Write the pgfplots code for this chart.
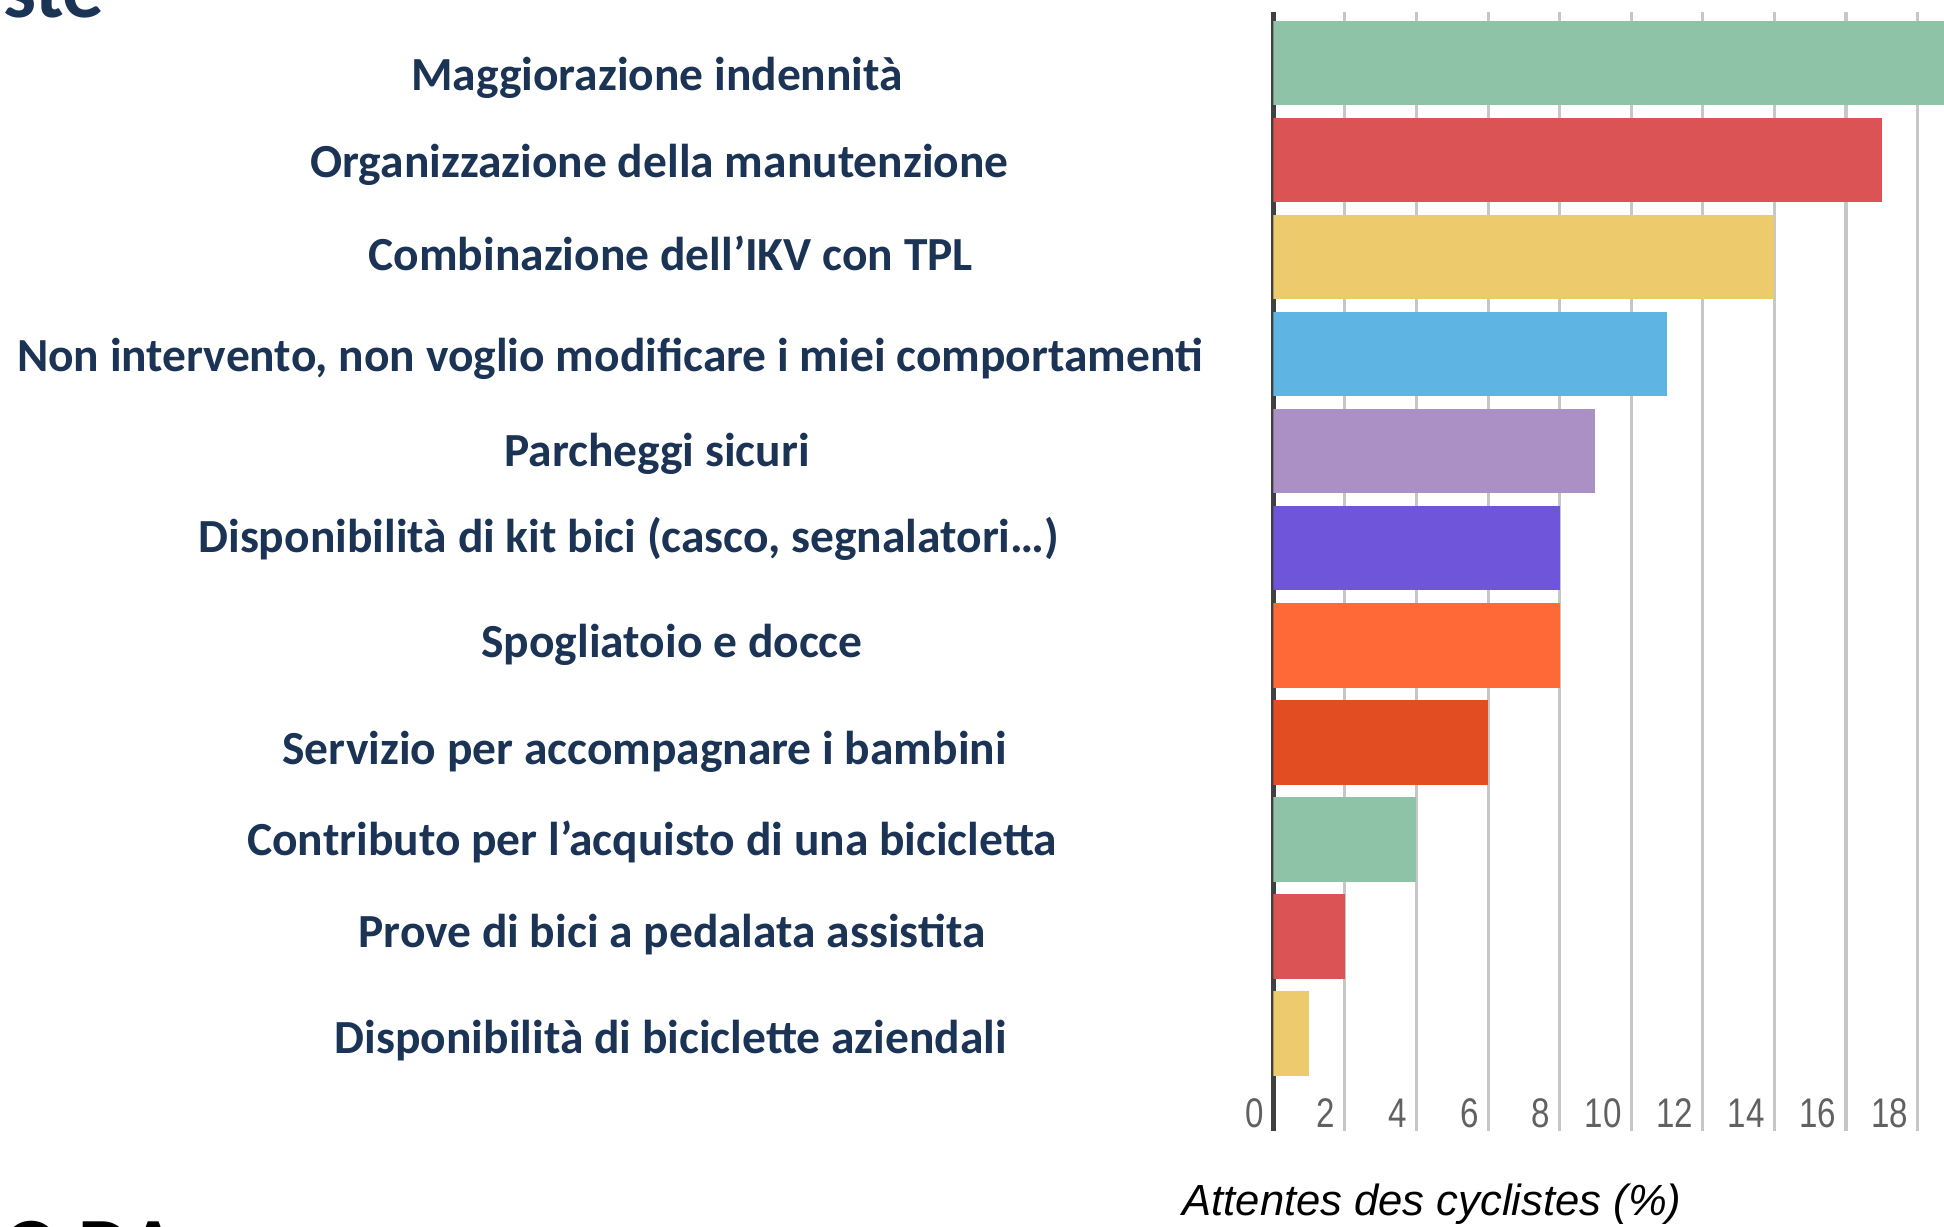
\documentclass[border=0pt]{standalone}
\usepackage{fontspec}
\setmainfont{Carlito}
\newfontfamily\arialf{Liberation Sans}
\newfontfamily\narrowf[FakeStretch=0.8]{Liberation Sans}
\usepackage{pgfplots}
\pgfplotsset{compat=1.18}
\definecolor{cgreen}{HTML}{8FC3A8}
\definecolor{cred}{HTML}{DC5355}
\definecolor{cyellow}{HTML}{EDCA6B}
\definecolor{cblue}{HTML}{5EB5E3}
\definecolor{cpurple}{HTML}{AB90C6}
\definecolor{cviolet}{HTML}{6E55DA}
\definecolor{corange}{HTML}{FF6938}
\definecolor{cdorange}{HTML}{E24D22}
\definecolor{navy}{HTML}{1B3354}
\begin{document}
\begin{tikzpicture}[x=1cm,y=1cm]
\useasboundingbox (0,0) rectangle (15.68,9.89);
\clip (0,0) rectangle (15.68,9.89);
\begin{axis}[
  at={(10.27cm,0.77cm)}, anchor=south west,
  width=5.41cm, height=9.02cm, scale only axis,
  xmin=0, xmax=18.74, ymin=0, ymax=11.52,
  axis line style={draw=none},
  xtick={0,2,...,18}, ytick=\empty,
  major tick length=0pt,
  xmajorgrids, grid style={draw=black!22, line width=0.7pt},
  extra x ticks={0}, extra x tick labels={},
  extra x tick style={grid style={draw=black!75, line width=1.1pt}},
  /pgf/number format/assume math mode=true,
  xticklabel style={anchor=base east, inner sep=0pt, xshift=-2pt, yshift=0.7pt,
    font=\narrowf\fontsize{9.5}{10}\selectfont, text=black!62},
]
\addplot[xbar, bar shift=0pt, bar width=0.87, fill=cgreen, draw=none] coordinates {(19,11)};
\addplot[xbar, bar shift=0pt, bar width=0.87, fill=cred, draw=none] coordinates {(17,10)};
\addplot[xbar, bar shift=0pt, bar width=0.87, fill=cyellow, draw=none] coordinates {(14,9)};
\addplot[xbar, bar shift=0pt, bar width=0.87, fill=cblue, draw=none] coordinates {(11,8)};
\addplot[xbar, bar shift=0pt, bar width=0.87, fill=cpurple, draw=none] coordinates {(9,7)};
\addplot[xbar, bar shift=0pt, bar width=0.87, fill=cviolet, draw=none] coordinates {(8,6)};
\addplot[xbar, bar shift=0pt, bar width=0.87, fill=corange, draw=none] coordinates {(8,5)};
\addplot[xbar, bar shift=0pt, bar width=0.87, fill=cdorange, draw=none] coordinates {(6,4)};
\addplot[xbar, bar shift=0pt, bar width=0.87, fill=cgreen, draw=none] coordinates {(4,3)};
\addplot[xbar, bar shift=0pt, bar width=0.87, fill=cred, draw=none] coordinates {(2,2)};
\addplot[xbar, bar shift=0pt, bar width=0.87, fill=cyellow, draw=none] coordinates {(1,1)};
\end{axis}
\begin{scope}[every node/.style={anchor=base, inner sep=0pt, text=navy, font=\bfseries\fontsize{10.9}{13}\selectfont}]
\node at (5.30, 9.89-0.73) {Maggiorazione indennità};
\node at (5.32, 9.89-1.43) {Organizzazione della manutenzione};
\node at (5.41, 9.89-2.18) {Combinazione dell’IKV con TPL};
\node at (4.92, 9.89-3.00) {Non intervento, non voglio modificare i miei comportamenti};
\node at (5.30, 9.89-3.76) {Parcheggi sicuri};
\node at (5.07, 9.89-4.46) {Disponibilità di kit bici (casco, segnalatori…)};
\node at (5.42, 9.89-5.30) {Spogliatoio e docce};
\node at (5.20, 9.89-6.17) {Servizio per accompagnare i bambini};
\node at (5.26, 9.89-6.90) {Contributo per l’acquisto di una bicicletta};
\node at (5.42, 9.89-7.64) {Prove di bici a pedalata assistita};
\node at (5.41, 9.89-8.50) {Disponibilità di biciclette aziendali};
\end{scope}
\node[anchor=base east, inner sep=0pt, text=navy, font=\bfseries\fontsize{19}{21}\selectfont] at (0.85, 9.89-0.14) {ste};
\node[anchor=base east, inner sep=0pt, text=black, font=\bfseries\fontsize{19}{21}\selectfont] at (1.45, 9.89-10.29) {AMO DA};
\node[anchor=base, inner sep=0pt, text=black, font=\arialf\itshape\fontsize{10}{12}\selectfont] at (11.55, 9.89-9.80) {Attentes des cyclistes (\%)};
\end{tikzpicture}
\end{document}
